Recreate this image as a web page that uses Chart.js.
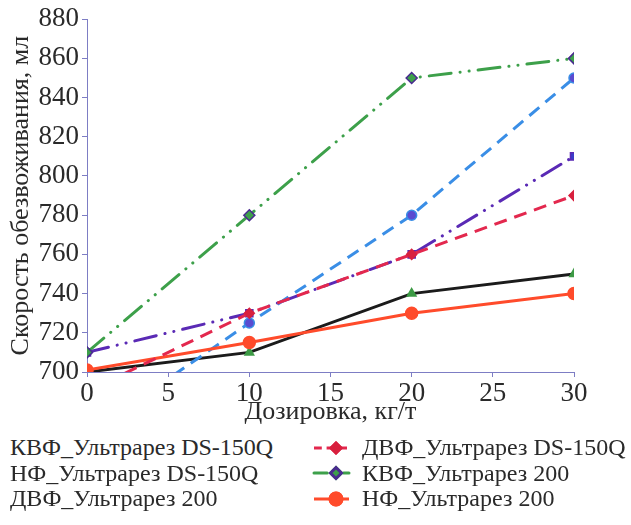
<!DOCTYPE html>
<html>
<head>
<meta charset="utf-8">
<script src="https://cdn.jsdelivr.net/npm/chart.js@4.4.1/dist/chart.umd.min.js"></script>
<style>
  html, body { margin: 0; padding: 0; background: #fff; overflow: hidden; }
  #wrap { position: relative; width: 631px; height: 525px; }
  #box { position: absolute; left: 0; top: 0; width: 631px; height: 430px; }
  #legend {
    position: absolute; left: -40px; top: 435px;
    display: grid; grid-template-columns: 352px 330px;
    grid-auto-rows: 25.5px;
    font-family: 'Liberation Serif', Tinos, FreeSerif, serif;
    font-size: 24px; color: #2a2a2a;
  }
  .item { display: flex; align-items: center; white-space: nowrap; }
  .item canvas { margin-right: 10px; }
</style>
</head>
<body>
<div id="wrap">
  <div id="box"><canvas id="chart"></canvas></div>
  <div id="legend"></div>
</div>
<script>
// dosage, kg/t
const doses = [0, 10, 20, 30];

const seriesNames = [
  'КВФ_Ультрарез DS-150Q',
  'ДВФ_Ультрарез DS-150Q',
  'НФ_Ультрарез DS-150Q',
  'КВФ_Ультрарез 200',
  'ДВФ_Ультрарез 200',
  'НФ_Ультрарез 200'
];

// dewatering rate, ml
const kvfDs150q = [710, 730, 760, 810];
const dvfDs150q = [690, 730, 760, 790];
const nfDs150q = [668, 725, 780, 850];
const kvf200 = [710, 780, 850, 860];
const dvf200 = [700, 710, 740, 750];
const nf200 = [701, 715, 730, 740];

const yTicks = [700, 720, 740, 760, 780, 800, 820, 840, 860, 880];
const xTicks = [0, 5, 10, 15, 20, 25, 30];

const axisColor = '#7d7dc4';
const textColor = '#2a2a2a';
const serif = "'Liberation Serif', Tinos, FreeSerif, serif";

function pts(values) {
  return values.map((v, i) => ({ x: doses[i], y: v }));
}

const styles = [
  { color: '#5a2ab5', dash: [22, 9, 0.1, 9, 0.1, 9], cap: 'round', point: 'rect', fill: '#3c3cc8', edge: '#5a2ab5', r: 5, order: 5 },
  { color: '#e3284e', dash: [13, 8], cap: 'butt', point: 'rectRot', fill: '#d8203e', edge: '#d8203e', r: 5, order: 1 },
  { color: '#3a8ee6', dash: [13, 8], cap: 'butt', point: 'circle', fill: '#5a4bd0', edge: '#3a8ee6', r: 5, order: 4 },
  { color: '#3da04a', dash: [22, 9, 0.1, 9, 0.1, 9], cap: 'round', point: 'rectRot', fill: '#3da04a', edge: '#4a2a90', r: 5.5, order: 3 },
  { color: '#1b1b1b', dash: [], cap: 'butt', point: 'triangle', fill: '#3d9a45', edge: '#3d9a45', r: 5, order: 6 },
  { color: '#ff4b2b', dash: [], cap: 'butt', point: 'circle', fill: '#ff4b2b', edge: '#ff4b2b', r: 6, order: 2 }
];

const values = [kvfDs150q, dvfDs150q, nfDs150q, kvf200, dvf200, nf200];

const datasets = values.map((vals, i) => {
  const s = styles[i];
  return {
    label: seriesNames[i],
    data: pts(vals),
    borderColor: s.color,
    borderWidth: 3,
    borderDash: s.dash,
    borderCapStyle: s.cap,
    pointStyle: s.point,
    pointRadius: s.r,
    pointBackgroundColor: s.fill,
    pointBorderColor: s.edge,
    pointBorderWidth: 1.5,
    fill: false,
    tension: 0,
    order: s.order
  };
});

function build() {
  const ctx = document.getElementById('chart').getContext('2d');
  const chart = new Chart(ctx, {
    type: 'line',
    data: { datasets: datasets },
    options: {
      responsive: true,
      maintainAspectRatio: false,
      animation: false,
      layout: { padding: { top: 0, right: 57, bottom: 0, left: 0 } },
      plugins: {
        legend: { display: false },
        tooltip: { enabled: false }
      },
      scales: {
        x: {
          type: 'linear',
          min: 0,
          max: 30,
          afterBuildTicks: (scale) => { scale.ticks = xTicks.map(v => ({ value: v })); },
          afterFit: (scale) => { scale.height = 58; },
          border: { color: axisColor, width: 1 },
          grid: { drawOnChartArea: false, drawTicks: true, tickLength: 5, color: axisColor },
          ticks: { color: textColor, font: { family: serif, size: 27 }, padding: 1, maxRotation: 0 },
          title: {
            display: true,
            text: 'Дозировка, кг/т',
            color: textColor,
            font: { family: serif, size: 26 },
            padding: { top: 0, bottom: 2 }
          }
        },
        y: {
          min: 700,
          max: 880,
          afterBuildTicks: (scale) => { scale.ticks = yTicks.map(v => ({ value: v })); },
          afterFit: (scale) => { scale.width = 87; },
          border: { color: axisColor, width: 1 },
          grid: { drawOnChartArea: false, drawTicks: true, tickLength: 5, color: axisColor },
          ticks: { color: textColor, font: { family: serif, size: 27 }, padding: 3 },
          title: {
            display: true,
            text: 'Скорость обезвоживания, мл',
            color: textColor,
            font: { family: serif, size: 26 },
            padding: { top: 6, bottom: 0 }
          }
        }
      }
    }
  });

  // legend laid out in two columns, the samples reuse the dataset styles
  const legend = document.getElementById('legend');
  chart.data.datasets.forEach((ds) => {
    const item = document.createElement('div');
    item.className = 'item';
    const c = document.createElement('canvas');
    c.width = 40;
    c.height = 20;
    const g = c.getContext('2d');
    g.strokeStyle = ds.borderColor;
    g.lineWidth = 3;
    g.lineCap = ds.borderCapStyle;
    g.setLineDash(ds.borderDash.map(d => d * 0.6));
    g.beginPath();
    g.moveTo(2, 10);
    g.lineTo(37, 10);
    g.stroke();
    g.setLineDash([]);
    Chart.helpers.drawPoint(g, {
      pointStyle: ds.pointStyle,
      radius: ds.pointRadius,
      borderWidth: ds.pointBorderWidth,
      rotation: 0
    }, 24, 10);
    g.fillStyle = ds.pointBackgroundColor;
    g.strokeStyle = ds.pointBorderColor;
    g.fill();
    g.stroke();
    item.appendChild(c);
    const t = document.createElement('span');
    t.textContent = ds.label;
    item.appendChild(t);
    legend.appendChild(item);
  });
}

document.fonts.load("27px 'Liberation Serif'", 'Скорость 880').then(build, build);
</script>
</body>
</html>
